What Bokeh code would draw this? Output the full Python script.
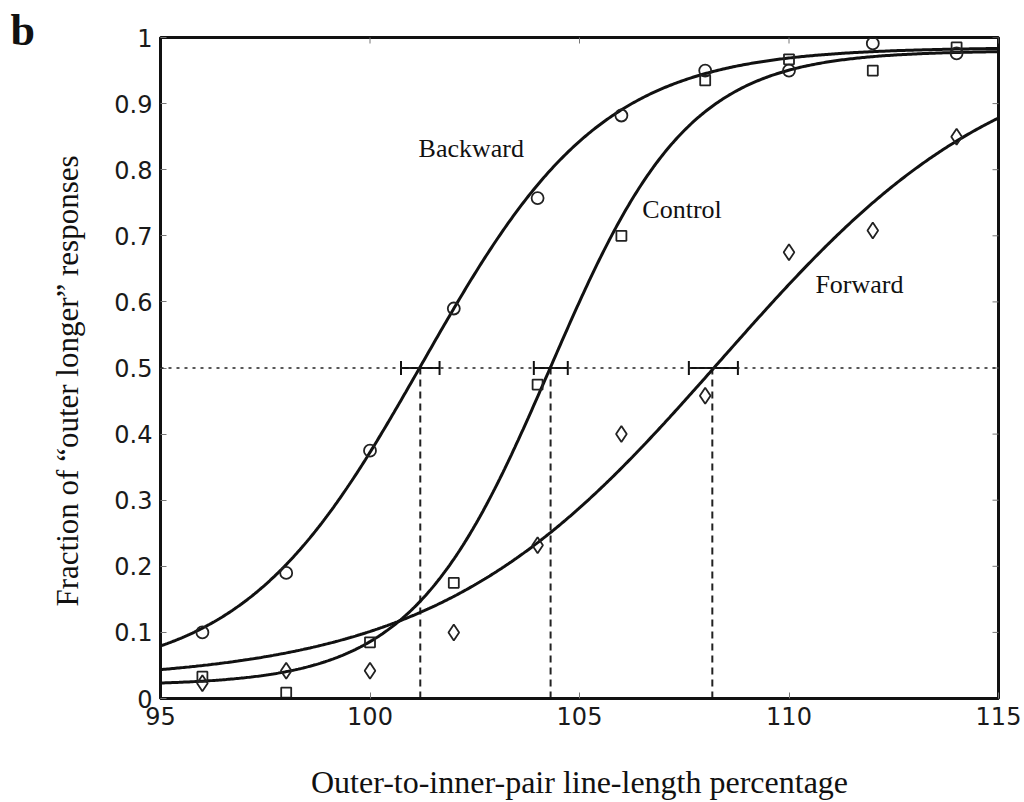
import numpy as np
from bokeh.plotting import figure
from bokeh.models import Range1d, FixedTicker, Span, Title
from bokeh.embed import file_html
from bokeh.resources import INLINE

# ---------------- data ----------------
x_levels = [96, 98, 100, 102, 104, 106, 108, 110, 112, 114]
backward_vals = [0.10, 0.19, 0.375, 0.59, 0.757, 0.882, 0.95, 0.95, 0.991, 0.976]
control_vals = [0.033, 0.009, 0.085, 0.175, 0.475, 0.70, 0.935, 0.967, 0.95, 0.985]
forward_vals = [0.023, 0.042, 0.042, 0.10, 0.232, 0.40, 0.458, 0.675, 0.708, 0.85]

# fitted psychometric (logistic) curves: centre, spread, guess, lapse
conditions = ["Backward", "Control", "Forward"]
fit_centre = [101.25, 104.3, 108.38]
fit_spread = [2.15, 1.65, 3.4]
fit_guess = [0.03, 0.02, 0.025]
fit_lapse = [0.015, 0.02, 0.0]

# points of subjective equality and their confidence intervals
pse = [101.2, 104.31, 108.17]
pse_lo = [100.74, 103.91, 107.61]
pse_hi = [101.66, 104.72, 108.78]
criterion = 0.5

# label anchor positions for condition names
label_x = [101.16, 106.5, 110.63]
label_y = [0.832, 0.740, 0.627]

x_ticks = [95, 100, 105, 110, 115]
y_ticks = [0, 0.1, 0.2, 0.3, 0.4, 0.5, 0.6, 0.7, 0.8, 0.9, 1.0]
y_tick_labels = ["0", "0.1", "0.2", "0.3", "0.4", "0.5", "0.6", "0.7", "0.8", "0.9", "1"]

x_title = "Outer-to-inner-pair line-length percentage"
y_title = "Fraction of \u201couter longer\u201d responses"
panel_letter = "b"

# ---------------- figure ----------------
INK = "#111111"
TICK = "#777777"
p = figure(width=1024, height=802, output_backend="svg", toolbar_location=None,
           x_range=Range1d(95, 115), y_range=Range1d(0, 1),
           min_border_left=160, min_border_right=26, min_border_top=37, min_border_bottom=103)
p.grid.visible = False
p.outline_line_color = INK
p.outline_line_width = 3
p.background_fill_color = "white"
p.border_fill_color = "white"

for ax in (p.xaxis[0], p.yaxis[0]):
    ax.axis_line_color = INK
    ax.axis_line_width = 3
    ax.major_tick_in = 6
    ax.major_tick_out = 0
    ax.major_tick_line_color = TICK
    ax.major_tick_line_width = 1
    ax.minor_tick_line_color = None
    ax.major_label_text_font = "DejaVu Sans"
    ax.major_label_text_color = "#1a1a1a"
    ax.major_label_text_font_size = "24px"
    ax.major_label_standoff = 8

p.xaxis[0].ticker = FixedTicker(ticks=x_ticks)
p.yaxis[0].ticker = FixedTicker(ticks=y_ticks)
p.yaxis[0].major_label_overrides = {t: l for t, l in zip(y_ticks, y_tick_labels)}

# x-axis title
p.xaxis[0].axis_label = x_title
p.xaxis[0].axis_label_text_font = "Liberation Serif"
p.xaxis[0].axis_label_text_font_style = "normal"
p.xaxis[0].axis_label_text_font_size = "32px"
p.xaxis[0].axis_label_text_color = INK
p.xaxis[0].axis_label_standoff = 36

# y-axis title (as a left title so it can be offset along the axis)
p.add_layout(Title(text=y_title, align="left", offset=92, standoff=54,
                   text_font="Liberation Serif", text_font_size="31px",
                   text_font_style="normal", text_color=INK, vertical_align="bottom"), "left")

# panel letter
p.add_layout(Title(text=panel_letter, align="left", offset=-150, standoff=-34,
                   text_font="Liberation Serif", text_font_size="44px",
                   text_font_style="bold", text_color=INK, vertical_align="bottom"), "above")

# inward ticks on top and right edges
p.scatter(x_ticks, [1] * len(x_ticks), marker="dash", angle=np.pi / 2, size=12,
          line_color=TICK, line_width=1)
p.scatter([115] * len(y_ticks), y_ticks, marker="dash", size=12,
          line_color=TICK, line_width=1)

# criterion line
p.add_layout(Span(location=criterion, dimension="width", line_color="#222222",
                  line_width=1.6, line_dash="3 5"))

# PSE drop lines
p.segment(x0=pse, y0=[0] * len(pse), x1=pse, y1=[criterion] * len(pse),
          line_color="#222222", line_width=2, line_dash="7 5")

# fitted curves
xs = np.linspace(95, 115, 500)
for m, s, g, l in zip(fit_centre, fit_spread, fit_guess, fit_lapse):
    ys = g + (1 - g - l) / (1 + np.exp(-(xs - m) / s))
    p.line(xs, ys, line_color=INK, line_width=3)

# confidence intervals on the PSE
crit = [criterion] * len(pse)
p.segment(x0=pse_lo, y0=crit, x1=pse_hi, y1=crit, line_color=INK, line_width=2)
p.scatter(pse_lo + pse_hi, crit + crit, marker="dash", angle=np.pi / 2, size=14,
          line_color=INK, line_width=2)

# data points
p.scatter(x_levels, backward_vals, marker="circle", size=12, fill_color=None,
          line_color="#222222", line_width=1.8)
p.scatter(x_levels, control_vals, marker="square", size=10, fill_color=None,
          line_color="#222222", line_width=1.8)
p.scatter(x_levels, forward_vals, marker="diamond", size=16, fill_color=None,
          line_color="#222222", line_width=1.8)

# condition labels
p.text(x=label_x, y=label_y, text=conditions, text_font={"value": "Liberation Serif"},
       text_font_size="26px", text_color=INK, text_align="left", text_baseline="alphabetic")

open("out.html", "w").write(file_html(p, INLINE))
